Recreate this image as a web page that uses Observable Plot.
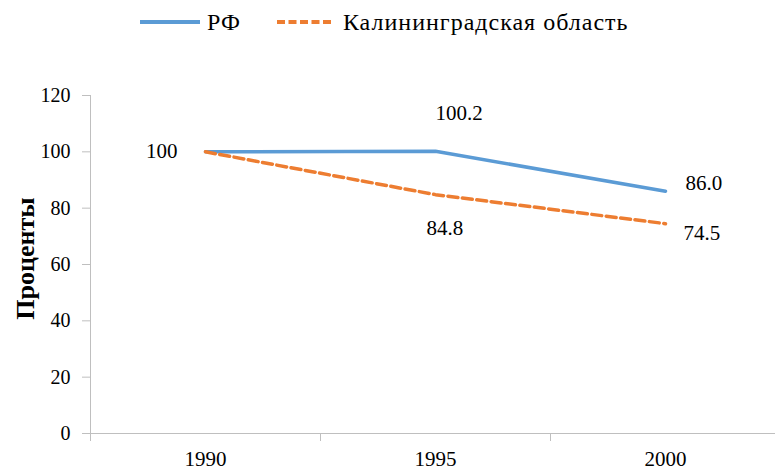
<!DOCTYPE html>
<html>
<head>
<meta charset="utf-8">
<script src="https://cdn.jsdelivr.net/npm/d3@7"></script>
<script src="https://cdn.jsdelivr.net/npm/@observablehq/plot@0.6"></script>
<style>
  html, body { margin: 0; padding: 0; background: #fff; }
  body { width: 775px; height: 472px; overflow: hidden; font-family: "Liberation Serif", serif; }
  #legend { height: 50px; box-sizing: border-box; padding-top: 10px; padding-left: 140px; display: flex; align-items: flex-start; }
  .item { display: flex; align-items: center; height: 24px; font-size: 24px; letter-spacing: 1px; color: #000; white-space: nowrap; }
  .item svg { display: block; }
</style>
</head>
<body>
<div id="legend"></div>
<div id="chart"></div>
<script>
const years = [1990, 1995, 2000];
const rfValues = [100, 100.2, 86.0];
const kalValues = [100, 84.8, 74.5];
const rfLabels = ["100", "100.2", "86.0"];
const kalLabels = [null, "84.8", "74.5"];
const seriesNames = ["РФ", "Калининградская область"];
const yTicks = [0, 20, 40, 60, 80, 100, 120];
const colors = ["#5B9BD5", "#ED7D31"];
const dashes = [null, "10,4.5"];

const rows = [];
years.forEach((y, i) => {
  rows.push({year: y, value: rfValues[i], series: seriesNames[0], label: rfLabels[i], idx: i});
  rows.push({year: y, value: kalValues[i], series: seriesNames[1], label: kalLabels[i], idx: i});
});

// Legend
const legend = document.getElementById("legend");
const swatchW = [60, 56];
const swatchGap = [7, 10];
seriesNames.forEach((name, i) => {
  const item = document.createElement("div");
  item.className = "item";
  if (i > 0) item.style.marginLeft = "36px";
  const w = swatchW[i];
  item.innerHTML = `<svg width="${w}" height="10" style="margin-right:${swatchGap[i]}px"><line x1="0" x2="${w}" y1="5" y2="5" stroke="${colors[i]}" stroke-width="4" ${dashes[i] ? `stroke-dasharray="8,3.5"` : ""}/></svg><span>${name}</span>`;
  legend.appendChild(item);
});

const rf = rows.filter(d => d.series === seriesNames[0]);
const kal = rows.filter(d => d.series === seriesNames[1]);
const gray = "#bfbfbf";

const chart = Plot.plot({
  width: 775,
  height: 422,
  marginLeft: 90,
  marginRight: 0,
  marginTop: 45,
  marginBottom: 39,
  x: {type: "linear", domain: [1987.5, 2002.5], range: [90, 780]},
  y: {domain: [0, 120], range: [383, 45]},
  style: {fontFamily: "Liberation Serif", fontSize: "20px", color: "#000", background: "white", overflow: "hidden"},
  marks: [
    Plot.ruleY([0], {stroke: gray, strokeWidth: 1}),
    Plot.ruleX([1987.5], {y1: 0, y2: 120, stroke: gray}),
    Plot.axisY({ticks: yTicks, tickSize: 8, tickPadding: 12, stroke: gray, fill: "#000", label: null, fontSize: 20}),
    Plot.axisX({ticks: [1987.5, 1992.5, 1997.5], tickSize: 8, tickFormat: () => "", stroke: gray, label: null}),
    Plot.axisX({ticks: years, tickSize: 0, tickPadding: 18, tickFormat: d => String(d), fill: "#000", label: null, fontSize: 21}),
    Plot.line(rf, {x: "year", y: "value", stroke: colors[0], strokeWidth: 3.5}),
    Plot.line(kal, {x: "year", y: "value", stroke: colors[1], strokeWidth: 3.5, strokeDasharray: dashes[1]}),
    // Data labels
    Plot.text(rf.filter(d => d.idx === 0), {x: "year", y: "value", text: "label", textAnchor: "end", dx: -28, dy: -1, fontSize: 21}),
    Plot.text(rf.filter(d => d.idx === 1), {x: "year", y: "value", text: "label", textAnchor: "start", dx: 0, dy: -38, fontSize: 21}),
    Plot.text(rf.filter(d => d.idx === 2), {x: "year", y: "value", text: "label", textAnchor: "start", dx: 20, dy: -8, fontSize: 21}),
    Plot.text(kal.filter(d => d.idx === 1), {x: "year", y: "value", text: "label", textAnchor: "start", dx: -9, dy: 34, fontSize: 21}),
    Plot.text(kal.filter(d => d.idx === 2), {x: "year", y: "value", text: "label", textAnchor: "start", dx: 18, dy: 10, fontSize: 21}),
    Plot.text(["Проценты"], {frameAnchor: "left", textAnchor: "middle", lineAnchor: "middle", rotate: -90, dx: -65, dy: -6, fontWeight: "bold", fontSize: 26})
  ]
});
document.getElementById("chart").appendChild(chart);
</script>
</body>
</html>
